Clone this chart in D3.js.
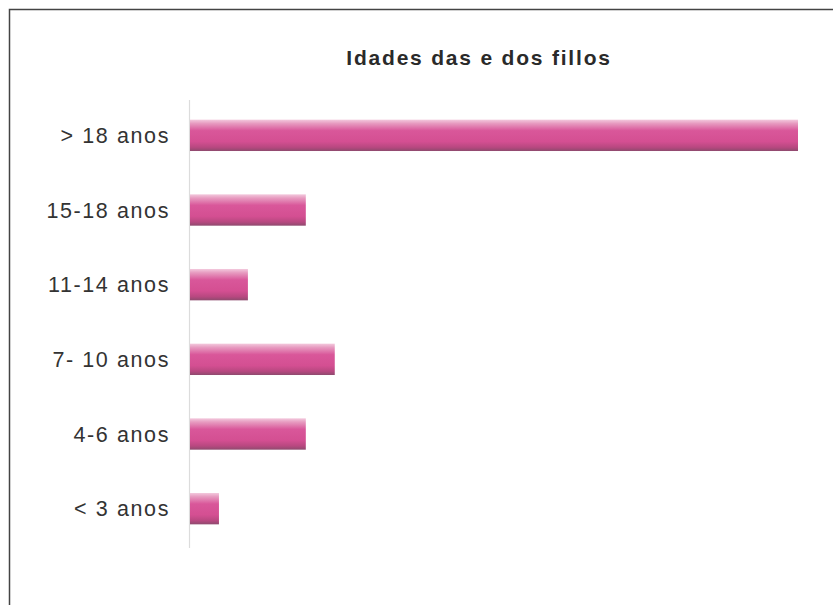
<!DOCTYPE html>
<html><head><meta charset="utf-8">
<script src="https://cdn.jsdelivr.net/npm/d3@7/dist/d3.min.js"></script>
<style>html,body{margin:0;padding:0;background:#fff;}svg{display:block;}</style>
</head><body>
<svg id="chart" width="833" height="605"></svg>
<script>
const categories = ["> 18 anos","15-18 anos","11-14 anos","7- 10 anos","4-6 anos","< 3 anos"];
const values = [21,4,2,5,4,1];
const title = "Idades das e dos fillos";

const svg = d3.select("#chart");
svg.append("rect").attr("x",9.5).attr("y",9.5).attr("width",840).attr("height",620)
  .attr("fill","#fff").attr("stroke","#444").attr("stroke-width",1.5);

const defs = svg.append("defs");
const g = defs.append("linearGradient").attr("id","bg").attr("x1",0).attr("y1",0).attr("x2",0).attr("y2",1);
[[0,"#f3c9dd"],[0.12,"#e79bc0"],[0.35,"#d9579a"],[0.7,"#d44f92"],[0.88,"#b84880"],[1,"#8e4a6e"]]
  .forEach(([o,c])=>g.append("stop").attr("offset",o).attr("stop-color",c));

const x = d3.scaleLinear().domain([0,21]).range([190,798]);
const y = d3.scaleBand().domain(categories).range([98,546]).paddingInner(0.58).paddingOuter(0.29);

svg.append("line").attr("x1",189.5).attr("x2",189.5).attr("y1",100).attr("y2",548)
  .attr("stroke","#dcdcdc").attr("stroke-width",1.2);

svg.append("g").selectAll("rect").data(values).join("rect")
  .attr("x",x(0)).attr("y",(d,i)=>y(categories[i]))
  .attr("width",d=>x(d)-x(0)).attr("height",y.bandwidth())
  .attr("fill","url(#bg)");

svg.append("g").selectAll("text").data(categories).join("text")
  .attr("x",170).attr("y",d=>y(d)+y.bandwidth()/2)
  .attr("dy","0.36em").attr("text-anchor","end")
  .attr("font-family","Liberation Sans, Arial, sans-serif").attr("font-size",21.5)
  .attr("letter-spacing",1.6)
  .attr("fill","#333").text(d=>d);

svg.append("text").attr("x",479).attr("y",65).attr("text-anchor","middle")
  .attr("font-family","Liberation Sans, Arial, sans-serif").attr("font-size",21).attr("font-weight","bold")
  .attr("letter-spacing",1.8)
  .attr("fill","#2a2a2a").text(title);
</script>
</body></html>
